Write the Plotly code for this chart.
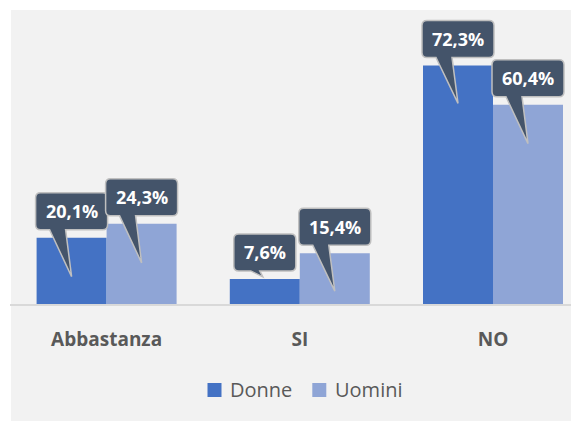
import plotly.graph_objects as go

# ---- data ----
categories = ["Abbastanza", "SI", "NO"]
donne = [20.1, 7.6, 72.3]
uomini = [24.3, 15.4, 60.4]
series_names = ["Donne", "Uomini"]

# ---- style ----
colors = ["#4472C4", "#8FA5D6"]
callout_fill = "#44546A"
callout_line = "#BFBFBF"
text_grey = "#595959"
panel_bg = "#F2F2F2"
FONT = "Open Sans"

PAGE = 8  # browser body margin
W, H = 579 - PAGE, 421 - PAGE
ML, MR, MT, MB = 2, 0, 2, 117
PW = W - ML - MR
PH = H - MT - MB
px_per_pct = 3.3
cat_px = 193.2
bar_w = 70 / cat_px
x_range = [-0.5, -0.5 + PW / cat_px]
y_range = [0, PH / px_per_pct]

# tail drop (px below bar top) per callout, styling only
tail_drop = {"Donne": [39, -2, 38], "Uomini": [39, 38, 39]}


def fmt(v):
    return f"{v:.1f}".replace(".", ",") + "%"


def px_x(p):  # page pixel -> paper
    return (p - PAGE - ML) / PW


def px_y(p):
    return (H - MB - (p - PAGE)) / PH


def callout_path(half, drop):
    r, top, bot = 5, 45, 8
    if drop > 10:
        tail = [(-6, bot), (0, -drop), (-22, bot)]
    else:
        tail = [(-5, bot), (-2, -drop), (-14, bot)]
    pts = [
        f"M{-half + r},{top}",
        f"L{half - r},{top}",
        f"Q{half},{top} {half},{top - r}",
        f"L{half},{bot + r}",
        f"Q{half},{bot} {half - r},{bot}",
    ]
    for (a, b) in tail:
        pts.append(f"L{a},{b}")
    pts += [
        f"L{-half + r},{bot}",
        f"Q{-half},{bot} {-half},{bot + r}",
        f"L{-half},{top - r}",
        f"Q{-half},{top} {-half + r},{top}",
        "Z",
    ]
    return " ".join(pts)


fig = go.Figure()
xs = list(range(len(categories)))
series = [donne, uomini]
offsets = [-bar_w, 0]
for name, vals, col, off in zip(series_names, series, colors, offsets):
    fig.add_trace(go.Bar(
        x=xs, y=vals, name=name, width=bar_w, offset=off,
        marker=dict(color=col, line=dict(width=0)),
        showlegend=False, hoverinfo="skip",
    ))

shapes = []
annotations = []
# background panel
shapes.append(dict(type="rect", xref="paper", yref="paper", layer="below",
                   x0=px_x(11), x1=px_x(590), y0=px_y(430), y1=px_y(10),
                   fillcolor=panel_bg, line=dict(width=0)))

# callouts
for name, vals, off in zip(series_names, series, offsets):
    for i, v in enumerate(vals):
        cx = xs[i] + off + bar_w / 2
        label = fmt(v)
        half = 36 if len(label) >= 5 else 31
        shapes.append(dict(
            type="path", xref="x", yref="y",
            xsizemode="pixel", ysizemode="pixel",
            xanchor=cx, yanchor=v,
            path=callout_path(half, tail_drop[name][i]),
            fillcolor=callout_fill,
            line=dict(color=callout_line, width=1.5),
            layer="above",
        ))
        annotations.append(dict(
            x=cx, y=v, xref="x", yref="y", text=f"<b>{label}</b>",
            showarrow=False, yshift=26.5, xanchor="center", yanchor="middle",
            font=dict(family=FONT, size=18, color="white"),
        ))

# manual legend
legend_items = [(207.5, 228, series_names[0], colors[0]),
                (312.3, 332.5, series_names[1], colors[1])]
for sx, tx, name, col in legend_items:
    shapes.append(dict(type="rect", xref="paper", yref="paper",
                       x0=px_x(sx), x1=px_x(sx + 14), y0=px_y(397), y1=px_y(383),
                       fillcolor=col, line=dict(width=0)))
    annotations.append(dict(x=px_x(tx), y=px_y(389), xref="paper", yref="paper",
                            text=name, showarrow=False, xanchor="left", yanchor="middle",
                            font=dict(family=FONT, size=20, color=text_grey)))

fig.update_layout(
    width=W, height=H,
    margin=dict(l=ML, r=MR, t=MT, b=MB, pad=0),
    paper_bgcolor="white",
    plot_bgcolor="rgba(0,0,0,0)",
    barmode="overlay",
    shapes=shapes,
    annotations=annotations,
    showlegend=False,
    xaxis=dict(range=x_range, tickvals=xs,
               ticktext=[f"<b>{c}</b>" for c in categories],
               tickfont=dict(family=FONT, size=19, color=text_grey),
               showgrid=False, zeroline=False, showline=True,
               linecolor="#D9D9D9", linewidth=1.5, ticks="",
               ticklabelstandoff=17, fixedrange=True),
    yaxis=dict(range=y_range, visible=False, showgrid=False, zeroline=False,
               fixedrange=True),
)

fig.write_html("out.html")
